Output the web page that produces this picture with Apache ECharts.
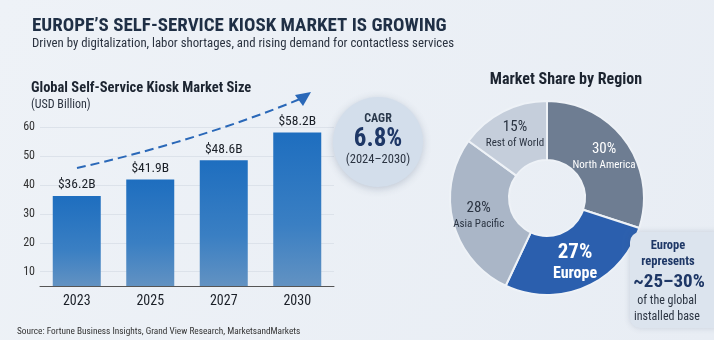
<!DOCTYPE html>
<html lang="en">
	<head>
		<meta charset="UTF-8">
		<title></title>
		<style type="text/css">
			html,
			body {
				width: 100%;
				height: 100%;
				margin: 0;
				padding: 0;
			}

			#main {
				width: 714px;
				height: 340px;
			}
		</style>
	</head>
	<body>
		<div id="main"></div>

		<script src="https://cdn.jsdelivr.net/npm/echarts@6/dist/echarts.min.js" type="text/javascript" charset="utf-8"></script>
		<script type="text/javascript">
			let years = ['2023', '2025', '2027', '2030'];
			let marketSize = [36.2, 41.9, 48.6, 58.2];
			let yTicks = [10, 20, 30, 40, 50, 60];

			let regions = ['North America', 'Europe', 'Asia Pacific', 'Rest of World'];
			let shares = [30, 27, 28, 15];
			let regionColors = ['#6e7d92', '#2b5fae', '#aab6c7', '#c5cedb'];

			let font = '"Roboto Condensed", Roboto, sans-serif';

			let pieData = regions.map((name, i) => {
				let dark = i < 2;
				let big = name === 'Europe';
				return {
					name,
					value: shares[i],
					itemStyle: { color: regionColors[i] },
					label: {
						rich: {
							p: {
								fontSize: big ? 21 : 15,
								fontWeight: big ? 'bold' : 'normal',
								color: dark ? '#fff' : '#2b3442',
								lineHeight: big ? 22 : 17,
								fontFamily: font
							},
							n: {
								fontSize: big ? 16 : 11,
								fontWeight: big ? 'bold' : 'normal',
								color: dark ? '#fff' : '#2b3442',
								lineHeight: big ? 20 : 15,
								fontFamily: font
							}
						}
					}
				};
			});

			var myChart = echarts.init(document.getElementById('main'));
			var option = {
				backgroundColor: {
					type: 'linear', x: 0, y: 0, x2: 1, y2: 1,
					colorStops: [{ offset: 0, color: '#eef2f7' }, { offset: 1, color: '#e8edf4' }]
				},
				textStyle: { fontFamily: font },
				title: [{
					text: 'EUROPE\u2019S SELF-SERVICE KIOSK MARKET IS GROWING',
					left: 27, top: 12,
					textStyle: { fontSize: 19, fontWeight: 'bold', color: '#1f2f45', fontFamily: font }
				}, {
					text: 'Driven by digitalization, labor shortages, and rising demand for contactless services',
					left: 27, top: 32,
					textStyle: { fontSize: 12.8, fontWeight: 'normal', color: '#2b3340', fontFamily: font }
				}, {
					text: 'Global Self-Service Kiosk Market Size',
					left: 26, top: 76,
					textStyle: { fontSize: 14.5, fontWeight: 'bold', color: '#1c2430', fontFamily: font }
				}, {
					text: '(USD Billion)',
					left: 26, top: 94,
					textStyle: { fontSize: 12, fontWeight: 'normal', color: '#2b3340', fontFamily: font }
				}, {
					text: 'Market Share by Region',
					left: 561, top: 67, textAlign: 'center',
					textStyle: { fontSize: 16, fontWeight: 'bold', color: '#1c2430', fontFamily: font }
				}, {
					text: 'Source: Fortune Business Insights, Grand View Research, MarketsandMarkets',
					left: 12, top: 322,
					textStyle: { fontSize: 9.3, fontWeight: 'normal', color: '#333', fontFamily: font }
				}],
				grid: {
					left: 40,
					width: 294,
					top: 113,
					bottom: 54
				},
				xAxis: {
					type: 'category',
					data: years,
					axisTick: { show: false },
					axisLine: { lineStyle: { color: '#555', width: 1 } },
					axisLabel: { fontSize: 14, color: '#1a1f27', margin: 8, fontFamily: font }
				},
				yAxis: {
					type: 'value',
					min: 5,
					max: 65,
					axisLine: { show: false },
					axisTick: { show: false, customValues: yTicks },
					axisLabel: { customValues: yTicks, fontSize: 12, color: '#333', margin: 5, fontFamily: font },
					splitLine: { lineStyle: { color: '#dce2ea' } }
				},
				series: [{
					type: 'bar',
					data: marketSize,
					barWidth: 48,
					itemStyle: {
						color: {
							type: 'linear', x: 0, y: 0, x2: 0, y2: 1,
							colorStops: [{ offset: 0, color: '#1e6ebf' }, { offset: 0.6, color: '#3a7fc3' }, { offset: 1, color: '#6292c2' }]
						}
					},
					label: {
						show: true,
						position: 'top',
						distance: 4,
						formatter: p => '$' + p.value.toFixed(1) + 'B',
						fontSize: 13.5,
						color: '#1a1f27',
						fontFamily: font
					}
				}, {
					type: 'pie',
					center: [547, 198],
					radius: [38, 97],
					startAngle: 90,
					clockwise: true,
					silent: true,
					itemStyle: { borderColor: '#eef2f7', borderWidth: 2 },
					label: {
						show: true,
						position: 'inside',
						formatter: p => '{p|' + p.value + '%}\n{n|' + p.name + '}'
					},
					labelLine: { show: false },
					data: pieData
				}],
				graphic: [{
					type: 'bezierCurve',
					shape: { x1: 77, y1: 168, cpx1: 150, cpy1: 152, cpx2: 235, cpy2: 126, x2: 300, y2: 99 },
					style: { stroke: '#2a68b8', lineWidth: 2, lineDash: [9, 5], fill: null },
					z: 10
				}, {
					type: 'polygon',
					shape: { points: [[295, 95], [311, 92], [303, 106]] },
					style: { fill: '#2a68b8' },
					z: 10
				}, {
					type: 'circle',
					shape: { cx: 378, cy: 142, r: 45 },
					style: { fill: '#d3deeb', shadowBlur: 8, shadowColor: 'rgba(60,80,110,0.25)', shadowOffsetY: 2 },
					z: 5
				}, {
					type: 'text', x: 378, y: 119, z: 6,
					style: { text: 'CAGR', fontSize: 12, fontWeight: 'bold', fill: '#2b3a4d', align: 'center', verticalAlign: 'middle', fontFamily: font }
				}, {
					type: 'text', x: 378, y: 140, z: 6,
					style: { text: '6.8%', fontSize: 25, fontWeight: 'bold', fill: '#1e3766', align: 'center', verticalAlign: 'middle', fontFamily: font }
				}, {
					type: 'text', x: 378, y: 160, z: 6,
					style: { text: '(2024\u20132030)', fontSize: 12.5, fill: '#2b3442', align: 'center', verticalAlign: 'middle', fontFamily: font }
				}, {
					type: 'rect',
					shape: { x: 630, y: 232, width: 95, height: 96, r: 10 },
					style: { fill: '#dce4ee', shadowBlur: 6, shadowColor: 'rgba(60,80,110,0.2)' },
					z: 5
				}, {
					type: 'text', x: 668, y: 246, z: 6,
					style: { text: 'Europe', fontSize: 12.5, fontWeight: 'bold', fill: '#1e3766', align: 'center', verticalAlign: 'middle', fontFamily: font }
				}, {
					type: 'text', x: 668, y: 262, z: 6,
					style: { text: 'represents', fontSize: 12.5, fontWeight: 'bold', fill: '#1e3766', align: 'center', verticalAlign: 'middle', fontFamily: font }
				}, {
					type: 'text', x: 669, y: 282, z: 6,
					style: { text: '~25\u201330%', fontSize: 19, fontWeight: 'bold', fill: '#1e3766', align: 'center', verticalAlign: 'middle', fontFamily: font }
				}, {
					type: 'text', x: 667, y: 301, z: 6,
					style: { text: 'of the global', fontSize: 12, fill: '#2b3442', align: 'center', verticalAlign: 'middle', fontFamily: font }
				}, {
					type: 'text', x: 667, y: 317, z: 6,
					style: { text: 'installed base', fontSize: 12, fill: '#2b3442', align: 'center', verticalAlign: 'middle', fontFamily: font }
				}]
			};

			myChart.setOption(option);

			window.onresize = function() {
				myChart.resize();
			}
		</script>
	</body>
</html>
